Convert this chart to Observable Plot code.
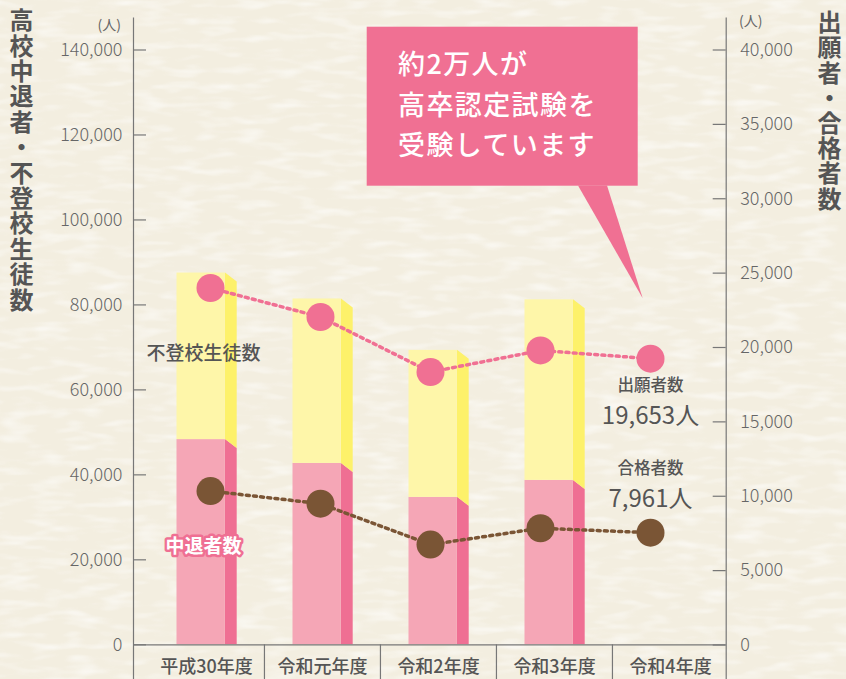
<!DOCTYPE html>
<html><head><meta charset="utf-8">
<script src="https://cdn.jsdelivr.net/npm/d3@7"></script>
<script src="https://cdn.jsdelivr.net/npm/@observablehq/plot@0.6"></script>
<style>
html,body{margin:0;padding:0;background:#f6f2e5;}
#wrap{position:relative;width:846px;height:679px;overflow:hidden;font-family:"Noto Sans CJK JP","Noto Sans",sans-serif;}
#wrap > svg{position:absolute;left:0;top:0;}
.vtitle{position:absolute;writing-mode:vertical-rl;font-size:24px;line-height:24px;font-weight:700;color:#555;}
.unit{position:absolute;font-size:14px;color:#666;line-height:14px;}
</style></head>
<body><div id="wrap"></div>
<script>
// ---- data ----
const years = ["平成30年度", "令和元年度", "令和2年度", "令和3年度", "令和4年度"];
const dropouts = [48300, 42700, 34700, 38700, null];      // 中退者数 (left axis)
const absentees = [39200, 38700, 34600, 42500, null];     // 不登校生徒数, stacked above (left axis)
const applicants = [24000, 22050, 18350, 19800, 19250];   // 出願者数 (right axis)
const passers = [10350, 9500, 6750, 7850, 7550];          // 合格者数 (right axis)
const latestApplicantsLabel = 19653;
const latestPassersLabel = 7961;
const leftTicks = [0, 20000, 40000, 60000, 80000, 100000, 120000, 140000];
const rightTicks = [0, 5000, 10000, 15000, 20000, 25000, 30000, 35000, 40000];
const leftTitle = "高校中退者・不登校生徒数";
const rightTitle = "出願者・合格者数";
const calloutLines = ["約2万人が", "高卒認定試験を", "受験しています"];

// ---- style ----
const pinkFront = "#f5a6b6", pinkSide = "#ef6f93";
const yellowFront = "#fef6a9", yellowSide = "#fdf16a";
const dotPink = "#f07093", dotBrown = "#7a5535";
const axisGray = "#777";
const W = 846, H = 679;
const mL = 133, mR = 120.3, mT = 49.5, mB = 34.7;
const fw = W - mL - mR;
const xRange = [148, 728.5];
const step = (xRange[1] - xRange[0]) / years.length;
const fmt = d3.format(",");
const font = "'Noto Sans CJK JP', 'Noto Sans', sans-serif";

const wrap = document.getElementById("wrap");

// background paper
wrap.insertAdjacentHTML("beforeend", `<svg width="${W}" height="${H}">
<filter id="paper" x="0" y="0" width="100%" height="100%">
<feTurbulence type="fractalNoise" baseFrequency="0.03 0.12" numOctaves="2" seed="7"/>
<feColorMatrix values="0 0 0 0 1  0 0 0 0 1  0 0 0 0 1  0 0 0 -2.5 1.35"/>
</filter>
<rect width="${W}" height="${H}" fill="#f3eee0"/>
<rect width="${W}" height="${H}" filter="url(#paper)" opacity="0.55"/>
</svg>`);

// ---- bars ----
const barRows = [];
years.forEach((yr, i) => {
  if (dropouts[i] == null) return;
  barRows.push({year: yr, part: "中退者数", value: dropouts[i]});
  barRows.push({year: yr, part: "不登校生徒数", value: absentees[i]});
});
const front = {"中退者数": pinkFront, "不登校生徒数": yellowFront};
const side = {"中退者数": pinkSide, "不登校生徒数": yellowSide};
const barNotes = [
  {label: "不登校生徒数", year: years[0], at: dropouts[0] + absentees[0] / 2},
  {label: "中退者数", year: years[0], at: dropouts[0] / 2}
];

const main = Plot.plot({
  width: W, height: H,
  marginLeft: mL, marginRight: mR, marginTop: mT, marginBottom: mB,
  style: {background: "transparent", fontFamily: font, color: "#666", overflow: "visible"},
  x: {type: "band", domain: years, range: xRange, padding: 0},
  y: {domain: [0, 140000]},
  color: {type: "identity"},
  marks: [
    Plot.frame({stroke: axisGray, strokeWidth: 1.2, insetTop: -(mT - 17), insetBottom: -mB,
      strokeDasharray: `0 ${fw} ${H - 17} ${fw} ${H - 17}`}),
    Plot.barY(barRows, {x: "year", y: "value", fill: d => front[d.part],
      insetLeft: 28.5, insetRight: step - 28.5 - 48.5}),
    Plot.barY(barRows, {x: "year", y: "value", fill: d => side[d.part],
      insetLeft: 77, insetRight: step - 77 - 11.8}),
    Plot.ruleY(leftTicks, {stroke: axisGray, strokeWidth: 1.2, insetRight: fw - 13}),
    Plot.ruleY([0], {stroke: axisGray, strokeWidth: 1.2}),
    Plot.ruleX(years.slice(1), {x: d => d, dx: -step / 2, y1: 0, y2: -9000, stroke: axisGray, strokeWidth: 1.2}),
    Plot.axisY({anchor: "left", ticks: leftTicks, tickSize: 0, tickPadding: 11, tickFormat: fmt,
      fontSize: 18, fontWeight: 300, fill: "#666", label: null}),
    Plot.axisX({anchor: "bottom", tickSize: 0, tickPadding: 15, fontSize: 18, fontWeight: 500,
      fill: "#555", label: null}),
    Plot.text(barNotes.slice(0, 1), {x: "year", y: "at", text: "label", dx: -3, dy: -2,
      fontSize: 19, fontWeight: 500, fill: "#555"}),
    Plot.text(barNotes.slice(1), {x: "year", y: "at", text: "label", dx: -3, dy: 5,
      fontSize: 19, fontWeight: 700, fill: "white", stroke: pinkSide, strokeWidth: 5})
  ]
});
// give the side faces their slanted 3D shape
const K = 9;
main.querySelectorAll("rect").forEach(r => {
  const f = r.getAttribute("fill");
  if (f !== pinkSide && f !== yellowSide) return;
  const x = +r.getAttribute("x"), y = +r.getAttribute("y");
  const w = +r.getAttribute("width"), h = +r.getAttribute("height");
  const pts = f === pinkSide
    ? [[x, y], [x + w, y + K], [x + w, y + h], [x, y + h]]
    : [[x, y], [x + w, y + K], [x + w, y + h + K], [x, y + h]];
  const p = document.createElementNS("http://www.w3.org/2000/svg", "polygon");
  p.setAttribute("points", pts.map(q => q.join(",")).join(" "));
  p.setAttribute("fill", f);
  r.replaceWith(p);
});
wrap.appendChild(main);

// ---- callout ----
const callout = `<svg width="${W}" height="${H}">
<rect x="366.7" y="26.7" width="271" height="159" fill="${dotPink}"/>
<polygon points="578,185.5 607,185.5 642.7,298.3" fill="${dotPink}"/>
<g fill="white" font-family="${font.replace(/'/g, "")}" font-size="27" font-weight="500" letter-spacing="1.4">
${calloutLines.map((t, i) => `<text x="398" y="${74 + i * 40.7}">${t}</text>`).join("")}
</g></svg>`;
wrap.insertAdjacentHTML("beforeend", callout);

// ---- lines ----
const pts = years.map((yr, i) => ({year: yr, applicants: applicants[i], passers: passers[i]}));
const last = [pts[pts.length - 1]];
const lines = Plot.plot({
  width: W, height: H,
  marginLeft: mL, marginRight: mR, marginTop: 49.5, marginBottom: 34.5,
  style: {background: "transparent", fontFamily: font, color: "#666", overflow: "visible"},
  x: {type: "point", domain: years, range: [208, 651], padding: 0, axis: null},
  y: {domain: [0, 40000]},
  color: {type: "identity"},
  marks: [
    Plot.ruleY(rightTicks, {stroke: axisGray, strokeWidth: 1.2, insetLeft: fw - 13}),
    Plot.axisY({anchor: "right", ticks: rightTicks, tickSize: 0, tickPadding: 14, tickFormat: fmt,
      fontSize: 18, fontWeight: 300, fill: "#666", label: null}),
    Plot.line(pts, {x: "year", y: "applicants", stroke: dotPink, strokeWidth: 3.5, strokeDasharray: "3 4.2"}),
    Plot.line(pts, {x: "year", y: "passers", stroke: dotBrown, strokeWidth: 3.5, strokeDasharray: "3 4.2"}),
    Plot.dot(pts, {x: "year", y: "applicants", r: 14, fill: dotPink}),
    Plot.dot(pts, {x: "year", y: "passers", r: 14, fill: dotBrown}),
    Plot.text(last, {x: "year", y: "applicants", text: d => "出願者数", dy: 27.5, fontSize: 16.5, fontWeight: 500, fill: "#555"}),
    Plot.text(last, {x: "year", y: "applicants", text: d => fmt(latestApplicantsLabel) + "人", dy: 57.5, fontSize: 24, fill: "#555"}),
    Plot.text(last, {x: "year", y: "passers", text: d => "合格者数", dy: -63.5, fontSize: 16.5, fontWeight: 500, fill: "#555"}),
    Plot.text(last, {x: "year", y: "passers", text: d => fmt(latestPassersLabel) + "人", dy: -33.5, fontSize: 24, fill: "#555"})
  ]
});
wrap.appendChild(lines);

// ---- titles & units ----
wrap.insertAdjacentHTML("beforeend", `
<div class="vtitle" style="left:9px;top:8px;letter-spacing:1.4px;">${leftTitle}</div>
<div class="vtitle" style="left:817px;top:10px;letter-spacing:1.2px;">${rightTitle}</div>
<div class="unit" style="right:${W - 121}px;top:17px;">(人)</div>
<div class="unit" style="left:739px;top:13px;">(人)</div>
`);
</script>
</body></html>
